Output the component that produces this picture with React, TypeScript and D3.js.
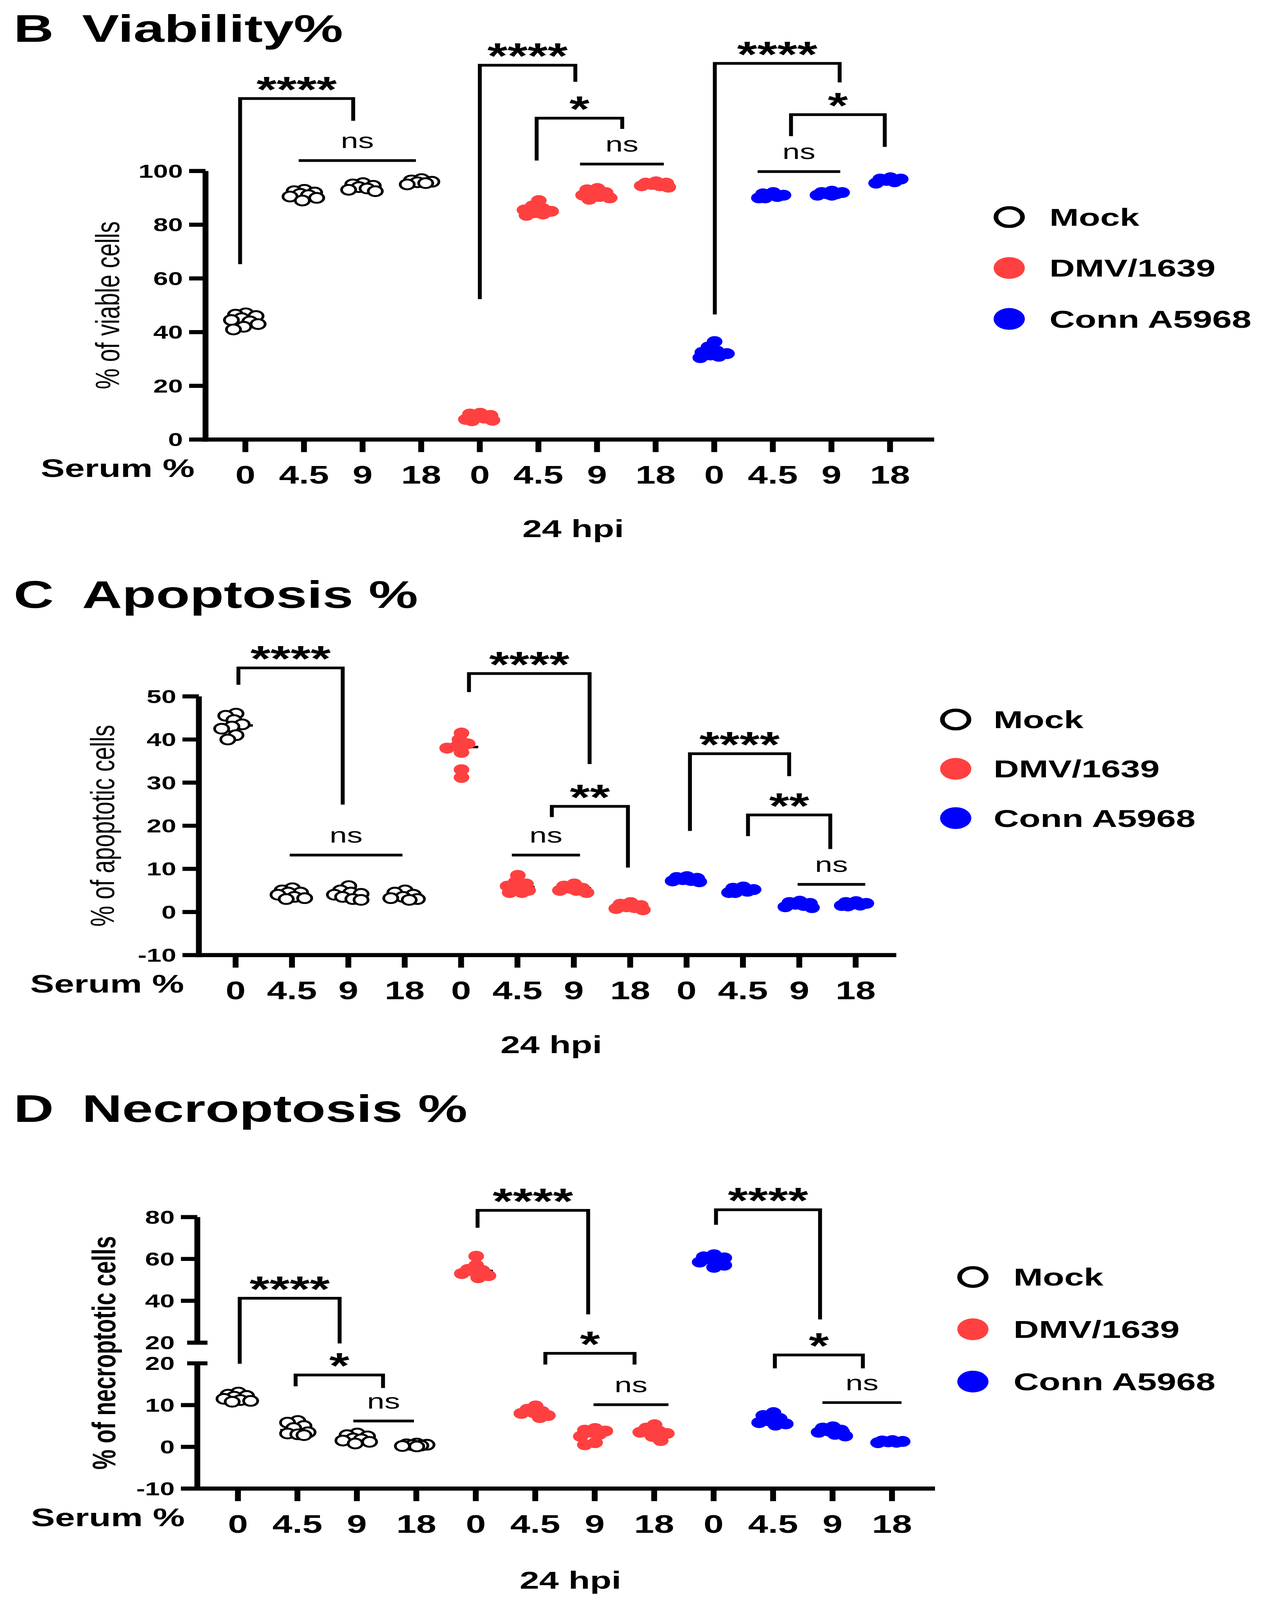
import React, { useEffect } from 'react';
import * as d3 from 'd3';

// categories
const serumLevels = ['0', '4.5', '9', '18'];
const strains = ['Mock', 'DMV/1639', 'Conn A5968'];
const strainColors = ['#000000', '#ff4040', '#0000ff'];

// B  Viability %  (one array per serum level)
const viabilityMock = [
  [47.0, 46.5, 46.0, 45.2, 44.5, 44.0, 43.0, 42.0, 41.0],
  [93.0, 92.5, 92.0, 91.5, 91.0, 90.5, 90.0, 89.0],
  [95.5, 95.0, 94.5, 94.0, 93.5, 93.0, 92.5],
  [97.0, 96.5, 96.0, 95.8, 95.5, 95.0],
];
const viabilityDmv = [
  [9.8, 9.5, 9.0, 8.5, 8.0, 7.5, 7.2, 7.0],
  [89.0, 87.0, 86.0, 85.5, 85.0, 84.5, 84.0, 83.5],
  [93.5, 93.0, 92.0, 91.5, 91.0, 90.5, 90.0, 89.5],
  [96.0, 95.5, 95.5, 95.0, 94.5, 94.5, 94.0],
];
const viabilityConn = [
  [36.5, 34.5, 33.0, 32.5, 32.0, 31.5, 31.0, 30.5],
  [92.0, 91.5, 91.0, 91.0, 90.5, 90.0, 90.0],
  [92.5, 92.0, 92.0, 91.5, 91.5, 91.0, 91.0],
  [97.5, 97.0, 97.0, 96.5, 96.0, 95.5],
];

// C  Apoptosis %
const apoptosisMock = [
  [46.0, 45.5, 44.5, 43.5, 43.0, 42.5, 41.0, 40.0],
  [5.5, 5.0, 4.5, 4.5, 4.0, 3.5, 3.2, 3.0],
  [6.0, 5.0, 4.5, 4.2, 4.0, 3.5, 3.0, 2.8],
  [5.0, 4.5, 4.0, 3.5, 3.2, 3.0, 2.8],
];
const apoptosisDmv = [
  [41.5, 40.0, 39.0, 38.5, 38.0, 37.0, 33.0, 31.2],
  [8.5, 7.0, 6.5, 6.0, 5.5, 5.0, 4.5, 4.5],
  [6.5, 6.0, 5.5, 5.5, 5.0, 5.0, 4.5],
  [2.2, 1.8, 1.5, 1.2, 1.0, 0.8, 0.5],
];
const apoptosisConn = [
  [8.2, 8.0, 7.8, 7.5, 7.3, 7.2, 7.0],
  [5.8, 5.5, 5.2, 5.0, 4.8, 4.5, 4.5],
  [2.5, 2.2, 2.0, 1.8, 1.5, 1.2, 1.0],
  [2.4, 2.2, 2.0, 1.8, 1.6, 1.5, 1.4],
];

// D  Necroptosis %
const necroptosisMock = [
  [13.0, 12.5, 12.2, 12.0, 11.5, 11.2, 11.0, 10.8],
  [6.2, 5.8, 5.0, 4.5, 3.5, 3.2, 3.0, 2.8],
  [3.2, 2.8, 2.5, 2.0, 1.8, 1.5, 1.2, 0.8],
  [0.8, 0.6, 0.5, 0.4, 0.3, 0.2, 0.1],
];
const necroptosisDmv = [
  [61.3, 57.0, 55.0, 54.5, 54.0, 53.0, 52.0, 51.0],
  [9.8, 9.0, 8.5, 8.2, 8.0, 7.5, 7.0],
  [4.4, 4.0, 3.8, 3.5, 3.0, 2.5, 1.0, 0.5],
  [5.3, 4.5, 3.8, 3.5, 3.2, 2.5, 1.5],
];
const necroptosisConn = [
  [62.0, 61.0, 60.5, 60.0, 59.5, 58.5, 57.0, 56.0],
  [8.2, 7.5, 6.8, 6.2, 5.8, 5.5, 5.2],
  [4.8, 4.5, 4.0, 3.8, 3.5, 3.0, 2.6],
  [1.5, 1.4, 1.3, 1.2, 1.1, 1.0],
];

// y tick values
const viabilityTicks = [0, 20, 40, 60, 80, 100];
const apoptosisTicks = [-10, 0, 10, 20, 30, 40, 50];
const necroLowerTicks = [-10, 0, 10, 20];
const necroUpperTicks = [20, 40, 60, 80];

// significance brackets: from/to in group index units, heights in data units
// segs (panel D only): segment of top/left/right, 'u' upper or 'l' lower
type Bracket = { from: number; to: number; top: number; left?: number; right?: number; label: string; segs?: string };

const viabilityBrackets: Bracket[] = [
  { from: -0.09, to: 1.84, top: 127.0, left: 65.3, right: 118.7, label: '****' },
  { from: 0.91, to: 2.91, top: 103.9, label: 'ns' },
  { from: 4.0, to: 5.63, top: 139.4, left: 52.3, right: 133.2, label: '****' },
  { from: 4.97, to: 6.43, top: 119.7, left: 103.9, right: 115.7, label: '*' },
  { from: 5.71, to: 7.14, top: 102.6, label: 'ns' },
  { from: 8.01, to: 10.14, top: 140.1, left: 46.6, right: 133.0, label: '****' },
  { from: 9.31, to: 10.91, top: 121.0, left: 113.0, right: 109.0, label: '*' },
  { from: 8.74, to: 10.15, top: 99.8, label: 'ns' },
];

const apoptosisBrackets: Bracket[] = [
  { from: 0.05, to: 1.9, top: 56.6, left: 52.7, right: 24.9, label: '****' },
  { from: 0.96, to: 2.96, top: 13.2, label: 'ns' },
  { from: 4.14, to: 6.28, top: 55.3, left: 51.0, right: 34.3, label: '****' },
  { from: 5.61, to: 6.96, top: 24.5, left: 22.0, right: 10.3, label: '**' },
  { from: 4.9, to: 6.11, top: 13.2, label: 'ns' },
  { from: 8.06, to: 9.82, top: 36.7, left: 18.8, right: 31.5, label: '****' },
  { from: 9.09, to: 10.55, top: 22.5, left: 17.6, right: 14.6, label: '**' },
  { from: 9.97, to: 11.17, top: 6.4, label: 'ns' },
];

const necroptosisBrackets: Bracket[] = [
  { from: 0.03, to: 1.71, top: 41.2, left: 19.9, right: 19.6, label: '****', segs: 'ulu' },
  { from: 0.97, to: 2.44, top: 17.2, left: 14.5, right: 14.1, label: '*', segs: 'lll' },
  { from: 1.94, to: 2.96, top: 6.2, label: 'ns', segs: 'l' },
  { from: 4.03, to: 5.89, top: 83.2, left: 74.9, right: 33.5, label: '****', segs: 'uuu' },
  { from: 5.17, to: 6.67, top: 22.4, left: 19.7, right: 19.7, label: '*', segs: 'lll' },
  { from: 5.98, to: 7.24, top: 10.1, label: 'ns', segs: 'l' },
  { from: 8.04, to: 9.79, top: 83.5, left: 76.3, right: 31.1, label: '****', segs: 'uuu' },
  { from: 9.03, to: 10.51, top: 22.0, left: 18.8, right: 18.8, label: '*', segs: 'lll' },
  { from: 9.83, to: 11.16, top: 10.6, label: 'ns', segs: 'l' },
];

const FONT = '"Liberation Sans", Arial, Helvetica, sans-serif';
const AXIS_W = 15;
const W = 3253;
const H = 5875;

type YFn = (v: number, seg?: string) => number;

interface PanelSpec {
  letter: string;
  title: string;
  titleY: number;
  yLabel: string;
  yLabelX: number;
  yLabelBold: boolean;
  axisX: number;
  xRange: [number, number];
  xAxisY: number;
  xAxisEnd: number;
  y: YFn;
  yTicks: { v: number; seg?: string; brk?: boolean }[];
  ySegments: [number, number][];
  series: number[][][];
  brackets: Bracket[];
  legend: { cx: number; cy: number; dy: number; tx: number };
  hpi: [number, number];
  serumRight: number;
}

// compact scatter: nearest free horizontal slot within a narrow band, overlap allowed
function swarm(values: number[], yPx: (v: number) => number, r: number) {
  const placed: { x: number; y: number }[] = [];
  const maxW = r * 1.7;
  const minD = r * 1.15;
  const cands = d3.range(-maxW, maxW + 0.01, r * 0.25).sort((a, b) => Math.abs(a) - Math.abs(b) || b - a);
  return values.map((v) => {
    const y = yPx(v);
    let best = 0;
    let bestD = -1;
    for (const dx of cands) {
      const d = placed.length ? (d3.min(placed, (p) => Math.hypot(p.x - dx, p.y - y)) as number) : Infinity;
      if (d >= minD) { best = dx; break; }
      if (d > bestD) { bestD = d; best = dx; }
    }
    placed.push({ x: best, y });
    return { v, dx: best, y };
  });
}

function Panel({ p }: { p: PanelSpec }) {
  const x = d3.scaleLinear().domain([0, 11]).range(p.xRange);
  const categories = strains.flatMap((s) => serumLevels.map((l) => ({ strain: s, level: l })));
  const segOf = (b: Bracket, i: number) => (b.segs ? b.segs[i] : undefined);

  return (
    <g>
      <text x={35} y={p.titleY} fontFamily={FONT} fontWeight="bold" fontSize={142}>{p.letter}</text>
      <text x={210} y={p.titleY} fontFamily={FONT} fontWeight="bold" fontSize={142}>{p.title}</text>

      {/* y axis */}
      {p.ySegments.map(([a, b], i) => (
        <line key={i} x1={p.axisX} x2={p.axisX} y1={a} y2={b} stroke="#000" strokeWidth={AXIS_W} />
      ))}
      {p.yTicks.map((t, i) => {
        const ty = p.y(t.v, t.seg);
        return (
          <g key={i}>
            <line x1={t.brk ? p.axisX - 26 : p.axisX - 42} x2={t.brk ? p.axisX + 26 : p.axisX} y1={ty} y2={ty}
              stroke="#000" strokeWidth={AXIS_W} />
            <text x={p.axisX - 58} y={ty} dy="0.36em" textAnchor="end" fontFamily={FONT} fontWeight="bold" fontSize={68}>
              {t.v}
            </text>
          </g>
        );
      })}
      <text transform={`translate(${p.yLabelX},${(p.ySegments[0][0] + p.xAxisY) / 2}) rotate(-90)`}
        textAnchor="middle" fontFamily={FONT} fontWeight={p.yLabelBold ? 'bold' : 'normal'} fontSize={p.yLabelBold ? 83 : 86}>
        {p.yLabel}
      </text>

      {/* x axis */}
      <line x1={p.axisX - AXIS_W / 2} x2={p.xAxisEnd} y1={p.xAxisY} y2={p.xAxisY} stroke="#000" strokeWidth={AXIS_W} />
      {categories.map((c, i) => (
        <g key={i}>
          <line x1={x(i)} x2={x(i)} y1={p.xAxisY} y2={p.xAxisY + 46} stroke="#000" strokeWidth={AXIS_W} />
          <text x={x(i)} y={p.xAxisY + 162} textAnchor="middle" fontFamily={FONT} fontWeight="bold" fontSize={92}>
            {c.level}
          </text>
        </g>
      ))}
      <text x={p.serumRight} y={p.xAxisY + 138} textAnchor="end" fontFamily={FONT} fontWeight="bold" fontSize={92}>Serum %</text>
      <text x={p.hpi[0]} y={p.hpi[1]} textAnchor="middle" fontFamily={FONT} fontWeight="bold" fontSize={90}>24 hpi</text>

      {/* points */}
      {p.series.map((groups, si) =>
        groups.map((vals, gi) => {
          const idx = si * 4 + gi;
          const cx = x(idx);
          const seg = (v: number) => (v > 20 ? 'u' : 'l');
          const yPx = (v: number) => p.y(v, seg(v));
          const med = d3.median(vals) as number;
          const r = si === 0 ? 18 : 20;
          const pts = swarm(vals, yPx, 21);
          return (
            <g key={`${si}-${gi}`}>
              <line x1={cx - 44} x2={cx + 44} y1={yPx(med)} y2={yPx(med)} stroke="#000" strokeWidth={9} />
              {pts.map((pt, k) => (
                <circle key={k} cx={cx + pt.dx} cy={pt.y} r={r}
                  fill={si === 0 ? '#fff' : strainColors[si]}
                  stroke={si === 0 ? '#000' : 'none'} strokeWidth={7} />
              ))}
            </g>
          );
        })
      )}

      {/* significance brackets */}
      {p.brackets.map((b, i) => {
        const xa = x(b.from);
        const xb = x(b.to);
        const yt = p.y(b.top, segOf(b, 0));
        const mid = (xa + xb) / 2;
        if (b.left === undefined) {
          return (
            <g key={i}>
              <line x1={xa} x2={xb} y1={yt} y2={yt} stroke="#000" strokeWidth={10} />
              <text x={mid} y={yt - 46} textAnchor="middle" fontFamily={FONT} fontSize={80}>{b.label}</text>
            </g>
          );
        }
        const yl = p.y(b.left, segOf(b, 1));
        const yr = p.y(b.right as number, segOf(b, 2));
        return (
          <g key={i}>
            <path d={`M${xa},${yl}V${yt}H${xb}V${yr}`} fill="none" stroke="#000" strokeWidth={10} />
            <text x={mid} y={yt + 12} textAnchor="middle" fontFamily={FONT} fontWeight="bold" fontSize={132}>{b.label}</text>
          </g>
        );
      })}

      {/* legend */}
      {strains.map((s, i) => {
        const cy = p.legend.cy + i * p.legend.dy;
        return (
          <g key={s}>
            {i === 0 ? (
              <circle cx={p.legend.cx} cy={cy} r={34} fill="#fff" stroke="#000" strokeWidth={12} />
            ) : (
              <circle cx={p.legend.cx} cy={cy} r={40} fill={strainColors[i]} />
            )}
            <text x={p.legend.tx} y={cy + 32} fontFamily={FONT} fontWeight="bold" fontSize={90}>{s}</text>
          </g>
        );
      })}
    </g>
  );
}

const yB = d3.scaleLinear().domain([0, 100]).range([1614, 628]);
const yC = d3.scaleLinear().domain([-10, 50]).range([3507, 2557]);
const yDLow = d3.scaleLinear().domain([-10, 20]).range([5466, 5006]);
const yDUp = d3.scaleLinear().domain([20, 80]).range([4930, 4469]);

const panels: PanelSpec[] = [
  {
    letter: 'B', title: 'Viability%', titleY: 153,
    yLabel: '% of viable cells', yLabelX: 305, yLabelBold: false,
    axisX: 526, xRange: [628, 2278], xAxisY: yB(0), xAxisEnd: 2391,
    y: (v) => yB(v),
    yTicks: viabilityTicks.map((v) => ({ v })),
    ySegments: [[yB(100), yB(0) + AXIS_W / 2]],
    series: [viabilityMock, viabilityDmv, viabilityConn],
    brackets: viabilityBrackets,
    legend: { cx: 2583, cy: 797, dy: 187, tx: 2686 },
    hpi: [1467, 1972], serumRight: 498,
  },
  {
    letter: 'C', title: 'Apoptosis %', titleY: 2232,
    yLabel: '% of apoptotic cells', yLabelX: 292, yLabelBold: false,
    axisX: 509, xRange: [603, 2190], xAxisY: yC(-10), xAxisEnd: 2294,
    y: (v) => yC(v),
    yTicks: apoptosisTicks.map((v) => ({ v })),
    ySegments: [[yC(50), yC(-10) + AXIS_W / 2]],
    series: [apoptosisMock, apoptosisDmv, apoptosisConn],
    brackets: apoptosisBrackets,
    legend: { cx: 2446, cy: 2642, dy: 181, tx: 2543 },
    hpi: [1411, 3867], serumRight: 471,
  },
  {
    letter: 'D', title: 'Necroptosis %', titleY: 4120,
    yLabel: '% of necroptotic cells', yLabelX: 295, yLabelBold: true,
    axisX: 505, xRange: [609, 2283], xAxisY: yDLow(-10), xAxisEnd: 2393,
    y: (v, seg) => (seg === 'u' ? yDUp(v) : yDLow(v)),
    yTicks: [
      ...necroLowerTicks.map((v) => ({ v, seg: 'l', brk: v === 20 })),
      ...necroUpperTicks.map((v) => ({ v, seg: 'u', brk: v === 20 })),
    ],
    ySegments: [[yDUp(80), yDUp(20)], [yDLow(20), yDLow(-10) + AXIS_W / 2]],
    series: [necroptosisMock, necroptosisDmv, necroptosisConn],
    brackets: necroptosisBrackets,
    legend: { cx: 2490, cy: 4689, dy: 192, tx: 2594 },
    hpi: [1460, 5833], serumRight: 473,
  },
];

export default function App() {
  useEffect(() => {
    document.body.style.margin = '0';
    document.body.style.overflow = 'hidden';
  }, []);
  // the drawing is laid out in a 3253 x 5875 frame and stretched to the window
  return (
    <svg viewBox={`0 0 ${W} ${H}`} preserveAspectRatio="none"
      style={{ position: 'fixed', left: 0, top: 0, width: '100vw', height: '100vh', display: 'block', background: '#fff' }}>
      <rect width={W} height={H} fill="#fff" />
      {panels.map((p) => (
        <Panel key={p.letter} p={p} />
      ))}
    </svg>
  );
}
